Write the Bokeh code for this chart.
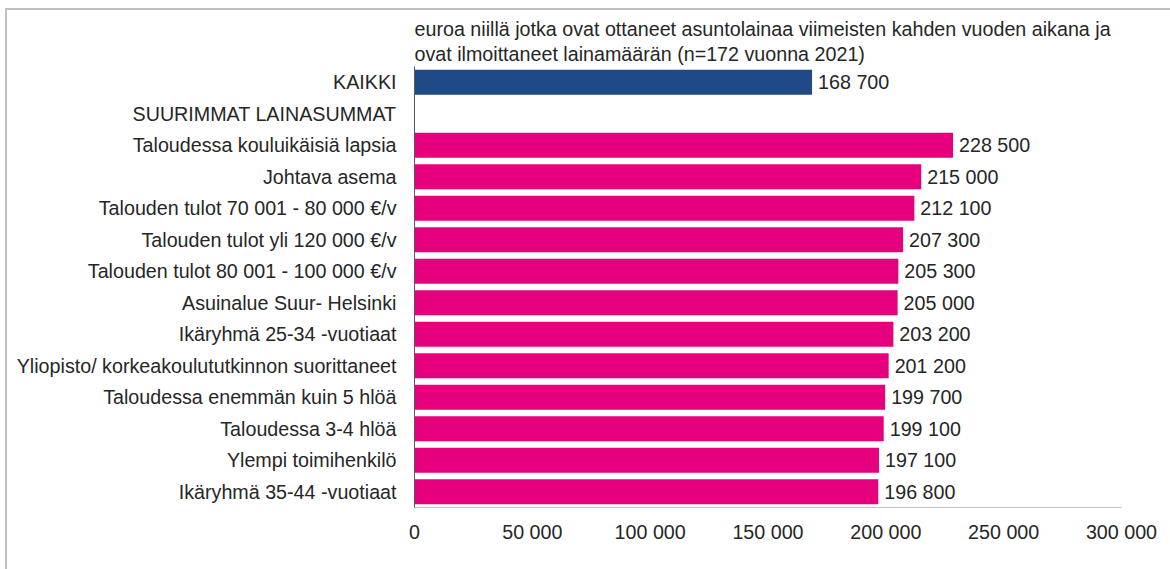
from bokeh.plotting import figure
from bokeh.models import FactorRange, ColumnDataSource, Title, CustomJSTickFormatter, Range1d
from bokeh.core.properties import value
from bokeh.embed import file_html
from bokeh.resources import INLINE

categories = [
    "KAIKKI",
    "SUURIMMAT LAINASUMMAT",
    "Taloudessa kouluikäisiä lapsia",
    "Johtava asema",
    "Talouden tulot 70 001 - 80 000 €/v",
    "Talouden tulot yli 120 000 €/v",
    "Talouden tulot 80 001 - 100 000 €/v",
    "Asuinalue Suur- Helsinki",
    "Ikäryhmä 25-34 -vuotiaat",
    "Yliopisto/ korkeakoulututkinnon suorittaneet",
    "Taloudessa enemmän kuin 5 hlöä",
    "Taloudessa 3-4 hlöä",
    "Ylempi toimihenkilö",
    "Ikäryhmä 35-44 -vuotiaat",
]
values = [168700, None, 228500, 215000, 212100, 207300, 205300, 205000,
          203200, 201200, 199700, 199100, 197100, 196800]
colors_by_group = {"total": "#1F4A87", "group": "#E6007E"}
title_lines = [
    "euroa niillä jotka ovat ottaneet asuntolainaa viimeisten kahden vuoden aikana ja",
    "ovat ilmoittaneet lainamäärän (n=172 vuonna 2021)",
]

cats, vals, cols, labels = [], [], [], []
for i, (c, v) in enumerate(zip(categories, values)):
    if v is None:
        continue
    cats.append(c)
    vals.append(v)
    cols.append(colors_by_group["total"] if i == 0 else colors_by_group["group"])
    labels.append(f"{v:,}".replace(",", " "))

src = ColumnDataSource(dict(cat=cats, val=vals, col=cols, lab=labels))

FONT = "Liberation Sans"
TXT = "#262626"
FS = "19.7px"

p = figure(width=1165, height=561, output_backend="svg", toolbar_location=None,
           y_range=FactorRange(factors=list(reversed(categories))),
           x_range=Range1d(0, 300000),
           min_border_left=407, min_border_right=51, min_border_top=56, min_border_bottom=64)
p.margin = (8, 0, 0, 5)
p.styles = {"border-top": "2px solid #c0c0c0", "border-left": "2px solid #c0c0c0",
            "box-sizing": "border-box"}
p.outline_line_color = None
p.xgrid.grid_line_color = None
p.ygrid.grid_line_color = None
p.background_fill_color = "white"
p.border_fill_color = "white"

p.hbar(y="cat", right="val", left=0, height=0.79, color="col", line_color=None, source=src)
p.text(x="val", y="cat", text="lab", source=src, x_offset=6, text_baseline="middle",
       text_font=value(FONT), text_font_size=FS, text_color=TXT)

for line, so in zip(reversed(title_lines), [3, 0]):
    t = Title(text=line, align="left", text_font=FONT, text_font_size=FS,
              text_font_style="normal", text_color=TXT, standoff=so)
    p.add_layout(t, "above")

p.xaxis.formatter = CustomJSTickFormatter(code="return String(tick).replace(/\\B(?=(\\d{3})+(?!\\d))/g, ' ');")
p.xaxis.ticker = [0, 50000, 100000, 150000, 200000, 250000, 300000]
p.xaxis.major_tick_line_color = None
p.xaxis.minor_tick_line_color = None
p.xaxis.axis_line_color = "#bfbfbf"
p.xaxis.axis_line_width = 1
p.xaxis.major_label_text_font = FONT
p.xaxis.major_label_text_font_size = FS
p.xaxis.major_label_text_color = TXT
p.xaxis.major_label_standoff = 7

p.yaxis.major_tick_line_color = None
p.yaxis.minor_tick_line_color = None
p.yaxis.axis_line_color = "#595959"
p.yaxis.major_label_text_font = FONT
p.yaxis.major_label_text_font_size = FS
p.yaxis.major_label_text_color = TXT
p.yaxis.major_label_standoff = 12

open("out.html", "w").write(file_html(p, INLINE))
